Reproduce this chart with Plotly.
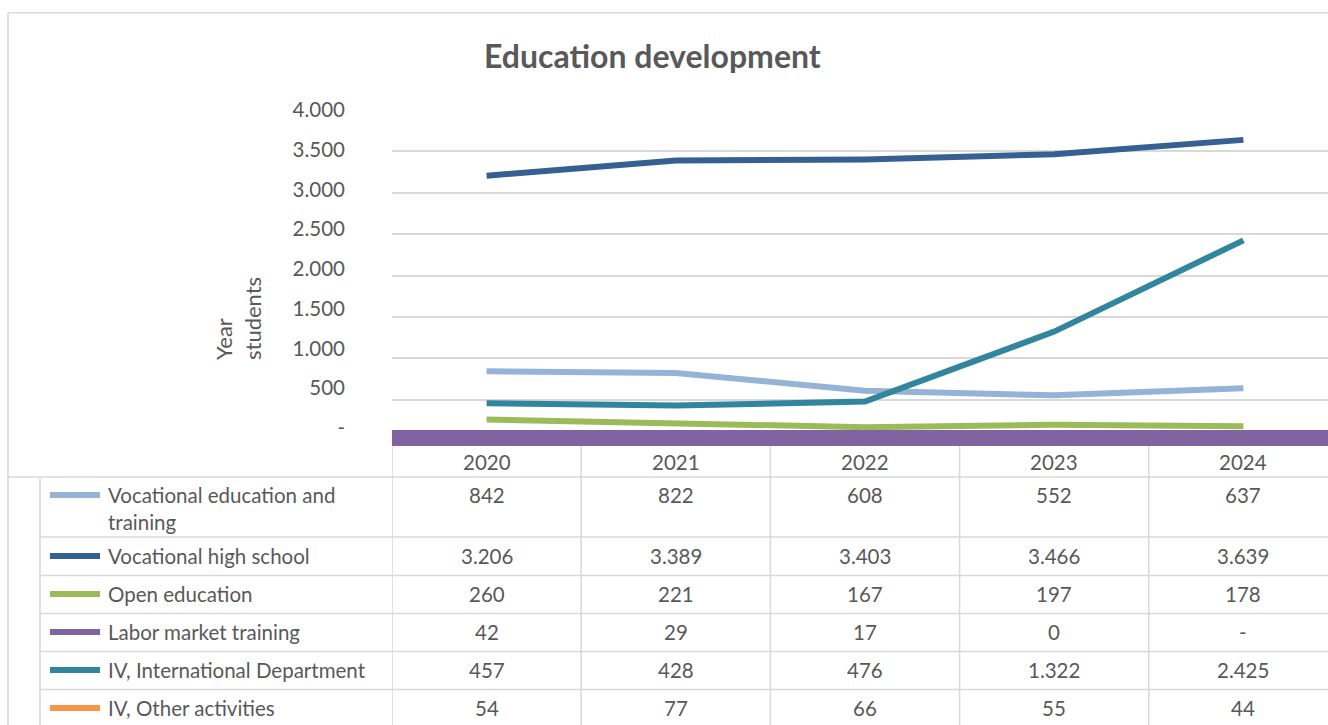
import plotly.graph_objects as go

# ---- data ----
years = ["2020", "2021", "2022", "2023", "2024"]
series_names = [
    "Vocational education and training",
    "Vocational high school",
    "Open education",
    "Labor market training",
    "IV, International Department",
    "IV, Other activities",
]
vet = [842, 822, 608, 552, 637]
vhs = [3206, 3389, 3403, 3466, 3639]
open_edu = [260, 221, 167, 197, 178]
labor = [42, 29, 17, 0, None]
intl = [457, 428, 476, 1322, 2425]
other = [54, 77, 66, 55, 44]
series_values = [vet, vhs, open_edu, labor, intl, other]
series_colors = ["#95B3D7", "#376092", "#9BBB59", "#8064A2", "#31859C", "#F79646"]
row_labels = ["Vocational education and<br>training", "Vocational high school",
              "Open education", "Labor market training",
              "IV, International Department", "IV, Other activities"]
y_ticks = [0, 500, 1000, 1500, 2000, 2500, 3000, 3500, 4000]

W, H = 1328, 725
FONT = "Lato"
TXT = "#595959"
GRID = "#D9D9D9"
TS = 20.5  # table / tick font size


def px(x):
    return x / W


def py(y):
    return 1 - y / H


def fmt(v):
    if v is None:
        return "-"
    return f"{v:,}".replace(",", ".")


def tick_text(v):
    return "-" if v == 0 else fmt(v)


def label(x, y, text, size=TS, xref="paper", xanchor="center", **kw):
    return dict(x=x, y=y, xref=xref, yref="paper", text=text, showarrow=False,
                xanchor=xanchor, yanchor="middle",
                font=dict(family=FONT, size=size, color=TXT), **kw)


PLOT_L, PLOT_T, PLOT_B = 392, 110, 441
LABEL_B = 428  # value labels sit on a slightly shorter scale than the gridlines
COL_W = 189.2
x_right = -0.5 + (W - PLOT_L) / COL_W

fig = go.Figure()
idx = list(range(len(years)))
# draw order: background series first, the ones on top last
order = [5, 3, 2, 0, 4, 1]
for i in order:
    fig.add_trace(go.Scatter(
        x=idx, y=series_values[i], mode="lines", name=series_names[i],
        line=dict(color=series_colors[i], width=6), connectgaps=False,
        showlegend=False, hoverinfo="skip"))
# empty carrier so the label axis gets drawn
fig.add_trace(go.Scatter(x=[], y=[], yaxis="y2", mode="lines",
                         showlegend=False, hoverinfo="skip"))

shapes = []
annotations = []

# outer frame
shapes.append(dict(type="line", xref="paper", yref="paper", x0=px(8), x1=px(W),
                   y0=py(12.8), y1=py(12.8), line=dict(color=GRID, width=1.5)))
shapes.append(dict(type="line", xref="paper", yref="paper", x0=px(8), x1=px(8),
                   y0=py(12.8), y1=0, line=dict(color=GRID, width=1.5)))

# thick purple category axis line
shapes.append(dict(type="line", xref="paper", yref="paper", x0=px(PLOT_L), x1=1,
                   y0=py(438), y1=py(438), line=dict(color="#8064A2", width=16),
                   layer="above"))

# data table grid
row_bounds = [477, 537, 575.5, 613.5, 651.5, 689.5]
shapes.append(dict(type="line", xref="paper", yref="paper", x0=px(8), x1=1,
                   y0=py(477), y1=py(477), line=dict(color=GRID, width=1.5)))
for yb in row_bounds[1:]:
    shapes.append(dict(type="line", xref="paper", yref="paper", x0=px(40), x1=1,
                       y0=py(yb), y1=py(yb), line=dict(color=GRID, width=1.5)))
shapes.append(dict(type="line", xref="paper", yref="paper", x0=px(40), x1=px(40),
                   y0=py(477), y1=0, line=dict(color=GRID, width=1.5)))
for k in range(len(years)):
    shapes.append(dict(type="line", xref="x", yref="paper", x0=k - 0.5, x1=k - 0.5,
                       y0=py(446), y1=0, line=dict(color=GRID, width=1.5)))

# header row (years)
for k, yr in enumerate(years):
    annotations.append(label(k, py(462), yr, xref="x"))

# rows: legend key, label, values
row_text_y = [495, 556, 594, 632, 670, 708]
for r, (lab, vals, col) in enumerate(zip(row_labels, series_values, series_colors)):
    ty = row_text_y[r]
    shapes.append(dict(type="line", xref="paper", yref="paper", x0=px(50), x1=px(100),
                       y0=py(ty), y1=py(ty), line=dict(color=col, width=6)))
    lab_y = ty if r > 0 else (495 + 522) / 2
    annotations.append(label(px(106), py(lab_y), lab, xanchor="left", align="left"))
    for k, v in enumerate(vals):
        annotations.append(label(k, py(ty), fmt(v), xref="x"))

# chart title
annotations.append(label(px(652), py(55), "<b>Education development</b>", size=32))
# value axis title
annotations.append(label(px(238), py(319), "Year<br>students", size=22,
                         textangle=-90, align="left"))

fig.update_layout(
    width=W, height=H,
    margin=dict(l=0, r=0, t=0, b=0, autoexpand=False),
    paper_bgcolor="white", plot_bgcolor="rgba(0,0,0,0)",
    showlegend=False,
    shapes=shapes, annotations=annotations,
    xaxis=dict(domain=[px(PLOT_L), 1], range=[-0.5, x_right], showgrid=False,
               zeroline=False, showticklabels=False, ticks="", fixedrange=True,
               automargin=False),
    # gridline scale (carries the series)
    yaxis=dict(domain=[py(PLOT_B), py(PLOT_T)], range=[0, 4000],
               tickvals=y_ticks, showticklabels=False,
               showgrid=True, gridcolor=GRID, gridwidth=1.5, zeroline=False,
               ticks="", fixedrange=True, automargin=False),
    # value labels
    yaxis2=dict(domain=[py(LABEL_B), py(PLOT_T)], range=[0, 4000], anchor="x",
                tickvals=y_ticks, ticktext=[tick_text(v) for v in y_ticks],
                showgrid=False, zeroline=False, showline=False,
                ticks="", ticklabelstandoff=46, automargin=False,
                tickfont=dict(family=FONT, size=TS, color=TXT), fixedrange=True),
)

fig.write_html("out.html", config={"displayModeBar": False})
